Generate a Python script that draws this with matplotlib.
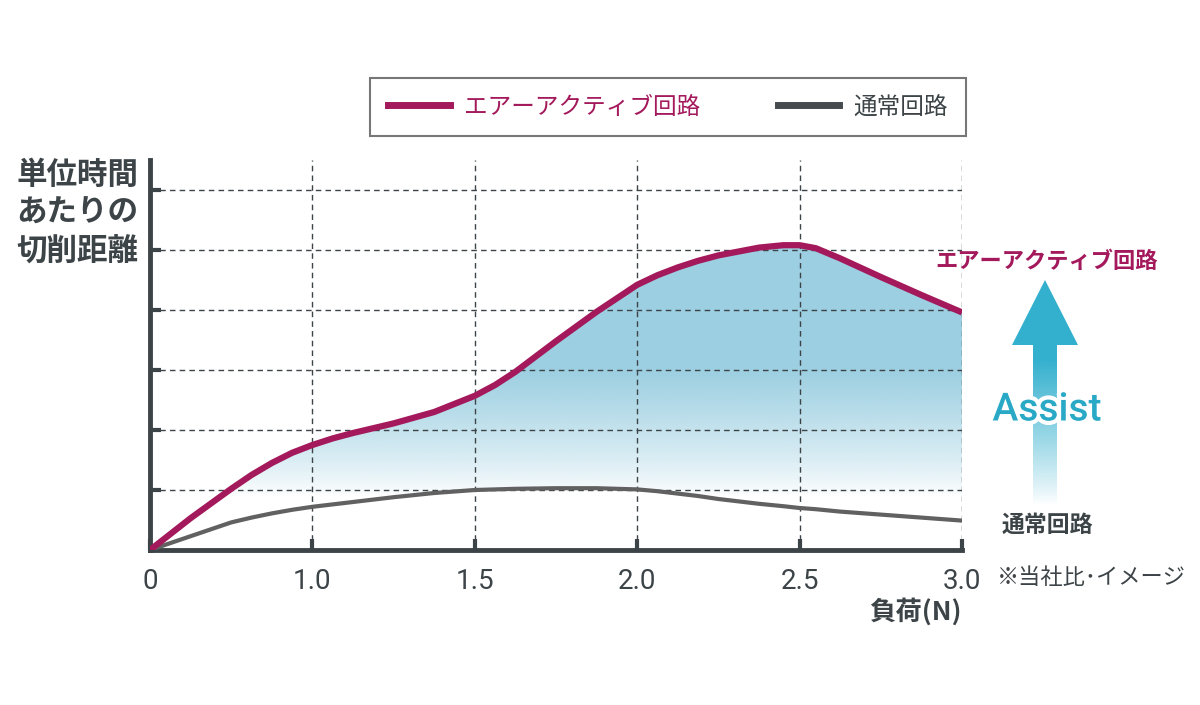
import numpy as np
import matplotlib.pyplot as plt
import matplotlib.patheffects as pe
from matplotlib.patches import Polygon
from matplotlib.lines import Line2D

plt.rcParams['font.family'] = ['Noto Sans CJK JP', 'DejaVu Sans']

# data (x in category-index units, 0..5 -> 0, 1.0, 1.5, 2.0, 2.5, 3.0)
tick_labels = ['0', '1.0', '1.5', '2.0', '2.5', '3.0']
xs = [0, 0.25, 0.5, 0.625, 0.75, 0.875, 1.0, 1.125, 1.25, 1.5, 1.75, 2.0, 2.125,
      2.25, 2.5, 2.75, 3.0, 3.125, 3.25, 3.375, 3.5, 3.75, 3.9, 4.0, 4.1, 4.25,
      4.5, 4.75, 5.0]
air_active = [0, 0.53, 1.02, 1.25, 1.45, 1.62, 1.75, 1.86, 1.95, 2.11, 2.30, 2.57, 2.75,
              2.97, 3.48, 3.97, 4.42, 4.58, 4.71, 4.82, 4.91, 5.04, 5.08, 5.08, 5.03, 4.86,
              4.55, 4.25, 3.96]
normal = [0, 0.23, 0.46, 0.54, 0.61, 0.67, 0.72, 0.76, 0.80, 0.88, 0.95, 1.00, 1.01,
          1.02, 1.03, 1.03, 1.01, 0.98, 0.94, 0.90, 0.85, 0.77, 0.73, 0.70, 0.68, 0.64,
          0.59, 0.54, 0.49]

RED = '#a3195b'
GRAY = '#616161'
DARK = '#3d4448'

W, H = 1200, 705
fig = plt.figure(figsize=(12, 7.05), dpi=100)
ax = fig.add_axes([150 / W, 1 - 550 / H, 812 / W, 390 / H])

x = np.array(xs)
ax.set_xlim(0, 5)
ax.set_ylim(0, 6.5)

# gradient fill between the two curves
yy = np.linspace(0, 6.5, 300)
alpha = np.clip((yy - 0.9) / (3.0 - 0.9), 0, 1) ** 0.8
img = np.zeros((len(yy), 2, 4))
img[..., :3] = np.array([0x9c, 0xcf, 0xe1]) / 255
img[..., 3] = alpha[:, None]
im = ax.imshow(img, extent=[0, 5, 0, 6.5], origin='lower', aspect='auto', zorder=0.5)
poly = np.vstack([np.column_stack([x, air_active]), np.column_stack([x[::-1], normal[::-1]])])
clip = Polygon(poly, closed=True, transform=ax.transData, facecolor='none', edgecolor='none')
ax.add_patch(clip)
im.set_clip_path(clip)

# grid
for yv in range(1, 7):
    ax.axhline(yv, color=DARK, lw=1, ls=(0, (4, 3)), zorder=1)
for xv in range(1, 6):
    ax.axvline(xv, color=DARK, lw=1, ls=(0, (4, 3)), zorder=1)

ax.plot(x, normal, color=GRAY, lw=3, zorder=3, solid_joinstyle='round')
ax.plot(x, air_active, color=RED, lw=4.5, zorder=4, solid_joinstyle='round', solid_capstyle='butt')

for s in ['top', 'right']:
    ax.spines[s].set_visible(False)
for s in ['left', 'bottom']:
    ax.spines[s].set_linewidth(3.5)
    ax.spines[s].set_color(DARK)
ax.set_xticks(range(6))
ax.set_xticklabels(tick_labels, family='Roboto')
ax.set_yticks(range(1, 7))
ax.set_yticklabels([])
ax.tick_params(axis='both', direction='in', length=8, width=3, color=DARK)
ax.tick_params(axis='x', labelsize=20, labelcolor=DARK, pad=13)

# axis labels
fig.text(77 / W, 1 - 213 / H, '単位時間\nあたりの\n切削距離', ha='center', va='center',
         fontsize=22, fontweight='bold', color=DARK, linespacing=1.25)
fig.text(962 / W, 1 - 612 / H, '負荷(N)', ha='right', va='center',
         fontsize=19, fontweight='bold', color=DARK)
fig.text(997 / W, 1 - 577 / H, '※当社比･イメージ', ha='left', va='center',
         fontsize=16, color=DARK)

# right side labels
fig.text(1047 / W, 1 - 262 / H, 'エアーアクティブ回路', ha='center', va='center',
         fontsize=16, fontweight='bold', color=RED)
fig.text(1047 / W, 1 - 525 / H, '通常回路', ha='center', va='center',
         fontsize=16.5, fontweight='bold', color=DARK)

# assist arrow with gradient
ax2 = fig.add_axes([1000 / W, 1 - 510 / H, 90 / W, 235 / H])
ax2.set_xlim(0, 90)
ax2.set_ylim(0, 235)
ax2.axis('off')
ay = np.linspace(0, 235, 300)
a_alpha = np.clip((ay - 5) / (150 - 5), 0, 1) ** 0.9
aimg = np.zeros((len(ay), 2, 4))
aimg[..., :3] = np.array([0x33, 0xb0, 0xce]) / 255
aimg[..., 3] = a_alpha[:, None]
aim = ax2.imshow(aimg, extent=[0, 90, 0, 235], origin='lower', aspect='auto')
arrow = Polygon([[33, 0], [33, 165], [12, 165], [45, 230], [78, 165], [57, 165], [57, 0]],
                closed=True, transform=ax2.transData, facecolor='none', edgecolor='none')
ax2.add_patch(arrow)
aim.set_clip_path(arrow)
fig.text(1047 / W, 1 - 410 / H, 'Assist', ha='center', va='center', fontsize=28,
         family='Roboto', fontweight='medium', color='#2aa9c6',
         path_effects=[pe.withStroke(linewidth=6, foreground='white')])

# legend
handles = [Line2D([], [], color=RED, lw=5), Line2D([], [], color='#454b4f', lw=5)]
leg = fig.legend(handles, ['エアーアクティブ回路', '通常回路'], ncol=2,
                 loc='center', bbox_to_anchor=(668 / W, 1 - 107 / H),
                 frameon=True, fancybox=False, handlelength=2.6,
                 columnspacing=3.3, borderpad=0.75, handletextpad=0.6,
                 prop={'size': 17})
leg.get_frame().set_edgecolor('#555555')
leg.get_frame().set_linewidth(1.5)
leg.get_texts()[0].set_color(RED)
leg.get_texts()[1].set_color(DARK)

fig.savefig('out.png', dpi=100)
